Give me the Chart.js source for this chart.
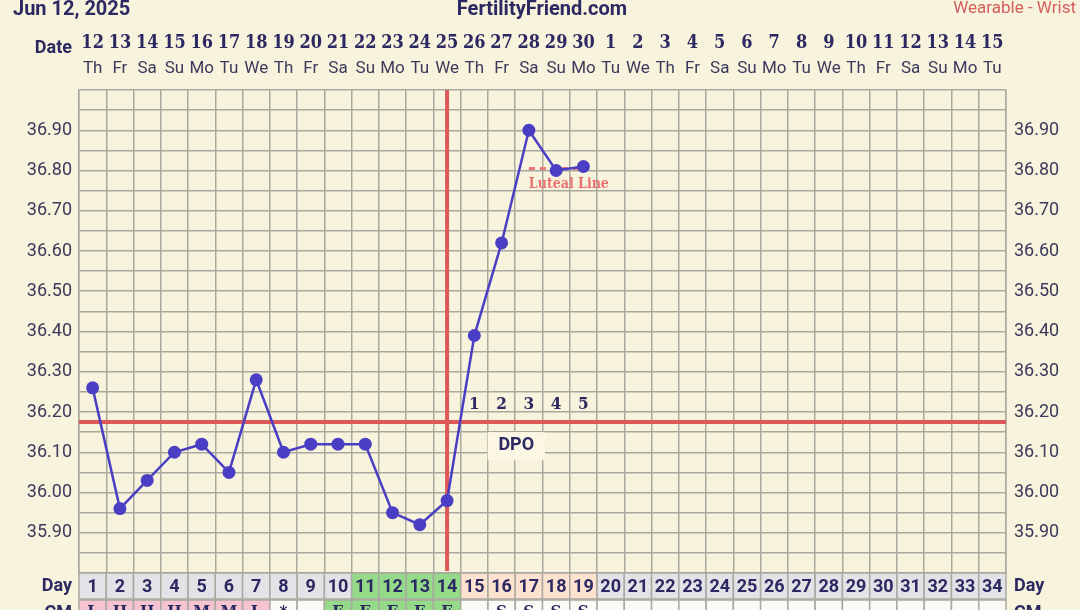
<!DOCTYPE html>
<html>
<head>
<meta charset="utf-8">
<script src="https://cdn.jsdelivr.net/npm/chart.js@4.4.1/dist/chart.umd.min.js"></script>
<style>
  html,body{margin:0;padding:0;background:#f8f3dc;}
  #wrap{width:1080px;height:610px;position:relative;}
</style>
</head>
<body>
<div id="wrap"><canvas id="c" width="1080" height="610"></canvas></div>
<script>
// ---- data ----
const cycleDays = ['1','2','3','4','5','6','7','8','9','10','11','12','13','14','15','16','17','18','19','20','21','22','23','24','25','26','27','28','29','30','31','32','33','34'];
const dateNums = ['12','13','14','15','16','17','18','19','20','21','22','23','24','25','26','27','28','29','30','1','2','3','4','5','6','7','8','9','10','11','12','13','14','15'];
const weekDays = ['Th','Fr','Sa','Su','Mo','Tu','We','Th','Fr','Sa','Su','Mo','Tu','We','Th','Fr','Sa','Su','Mo','Tu','We','Th','Fr','Sa','Su','Mo','Tu','We','Th','Fr','Sa','Su','Mo','Tu'];
const temps = [36.26, 35.96, 36.03, 36.10, 36.12, 36.05, 36.28, 36.10, 36.12, 36.12, 36.12, 35.95, 35.92, 35.98, 36.39, 36.62, 36.90, 36.80, 36.81];
const lutealLine = [null,null,null,null,null,null,null,null,null,null,null,null,null,null,null,null,36.805,36.805,36.805];
const coverline = 36.175;
const ovulationDay = 14;
const dpoLabels = ['1','2','3','4','5'];
const dpoStartDay = 15;
const cmCodes = ['L','H','H','H','M','M','L','*','','E','E','E','E','E','','S','S','S','S','','','','','','','','','','','','','','',''];
const dayRowKind = ['g','g','g','g','g','g','g','g','g','g','f','f','f','f','p','p','p','p','p','g','g','g','g','g','g','g','g','g','g','g','g','g','g','g'];
const cmRowKind  = ['k','k','k','k','k','k','k','w','w','f','f','f','f','f','w','w','w','w','w','w','w','w','w','w','w','w','w','w','w','w','w','w','w','w'];
const yMin = 35.80, yMax = 37.00, yStep = 0.05;

const NAVY = '#2b2862';
const CREAM = '#f8f3dc';
const GRID = '#aaa9a0';
const RED = '#dd5858';
const BLUE = '#4a3fc4';
const SLAB = '"DejaVu Serif Condensed", "DejaVu Serif", serif';
const fills = {g:'#e3e2e7', f:'#94da88', p:'#fde3cf', k:'#f5c4d0', w:'#fbfaf4'};

const decor = {
  id:'decor',
  beforeDraw(chart){
    const c = chart.ctx;
    c.save(); c.fillStyle = CREAM; c.fillRect(0,0,chart.width,chart.height); c.restore();
  },
  beforeDatasetsDraw(chart){
    const c = chart.ctx, x = chart.scales.x, y = chart.scales.y, a = chart.chartArea;
    c.save();
    // DPO box
    const bx0 = x.getPixelForValue(dpoStartDay) - 14, bx1 = x.getPixelForValue(dpoStartDay+1) + 16;
    c.fillStyle = '#fbf7e4';
    c.fillRect(bx0, y.getPixelForValue(36.15), bx1-bx0, y.getPixelForValue(36.08)-y.getPixelForValue(36.15));
    c.fillStyle = NAVY; c.font = 'bold 18px Roboto'; c.textAlign='center'; c.textBaseline='middle';
    c.fillText('DPO', (bx0+bx1)/2, y.getPixelForValue(36.117));
    // coverline
    c.strokeStyle = RED; c.lineWidth = 4;
    const cy = y.getPixelForValue(coverline);
    c.beginPath(); c.moveTo(a.left, cy); c.lineTo(a.right, cy); c.stroke();
    // ovulation line
    const ox = x.getPixelForValue(ovulationDay-1);
    c.beginPath(); c.moveTo(ox, a.top); c.lineTo(ox, a.bottom-2); c.stroke();
    // DPO numbers
    c.fillStyle = NAVY; c.font = 'bold 17px ' + SLAB; c.textAlign='center'; c.textBaseline='middle';
    dpoLabels.forEach((t,i)=>{ c.fillText(t, x.getPixelForValue(dpoStartDay-1+i), y.getPixelForValue(36.18)-15); });
    // luteal label
    c.fillStyle = '#e87272'; c.font = 'bold 14px ' + SLAB; c.textAlign='left';
    c.fillText('Luteal Line', x.getPixelForValue(16), y.getPixelForValue(36.80)+14);
    c.restore();
  },
  afterDraw(chart){
    const c = chart.ctx, x = chart.scales.x, a = chart.chartArea;
    const w = (a.right - a.left)/cycleDays.length;
    c.save();
    // header
    c.fillStyle = NAVY; c.textBaseline='alphabetic';
    c.font = 'bold 20px Roboto'; c.textAlign='left'; c.fillText('Jun 12, 2025', 13, 15);
    c.textAlign='center'; c.fillText('FertilityFriend.com', 542, 15);
    c.fillStyle = '#d45e5e'; c.font = '17px Roboto'; c.textAlign='right'; c.fillText('Wearable - Wrist', 1076, 13);
    // date rows
    c.fillStyle = NAVY; c.textBaseline='middle';
    c.font = 'bold 18px Roboto'; c.textAlign='right'; c.fillText('Date', 72, 48);
    dateNums.forEach((t,i)=>{
      const px = x.getPixelForValue(i);
      c.fillStyle = NAVY; c.font = 'bold 18px ' + SLAB; c.textAlign='center'; c.fillText(t, px, 43);
      c.fillStyle = '#3b3a5c'; c.font = '17px Roboto'; c.fillText(weekDays[i], px, 69);
    });
    // day row & cm row
    const r1 = a.bottom, r1h = 26, r2 = a.bottom + 27, r2h = 26;
    cycleDays.forEach((t,i)=>{
      const x0 = a.left + i*w;
      c.fillStyle = fills[dayRowKind[i]]; c.fillRect(x0, r1, w, r1h);
      c.fillStyle = fills[cmRowKind[i]]; c.fillRect(x0, r2, w, r2h);
      c.strokeStyle = GRID; c.lineWidth = 1.5;
      c.strokeRect(x0, r1, w, r1h); c.strokeRect(x0, r2, w, r2h);
      c.fillStyle = NAVY; c.font = 'bold 18px Roboto'; c.textAlign='center'; c.textBaseline='middle';
      c.fillText(t, x0 + w/2, r1 + r1h/2 + 1);
      if (cmCodes[i]) { c.font = 'bold 17px ' + SLAB; c.fillText(cmCodes[i], x0 + w/2, r2 + 13); }
    });
    c.fillStyle = NAVY; c.font = 'bold 18px Roboto'; c.textBaseline='middle';
    c.textAlign='right'; c.fillText('Day', 72, r1 + 13); c.fillText('CM', 72, r2 + 13);
    c.textAlign='left'; c.fillText('Day', 1014, r1 + 13); c.fillText('CM', 1014, r2 + 13);
    c.restore();
  }
};

const tickCb = function(v){
  const h = Math.round(v*100);
  if (h % 10 === 0 && h >= 3590 && h <= 3690) return (h/100).toFixed(2);
  return '';
};

new Chart(document.getElementById('c'), {
  type:'line',
  data:{
    labels: cycleDays,
    datasets:[
      {data: temps, borderColor: BLUE, backgroundColor: BLUE, borderWidth: 2.5, pointRadius: 6.5, pointHoverRadius: 6.5, pointBackgroundColor: BLUE, pointBorderWidth: 0, tension: 0},
      {data: lutealLine, borderColor: '#ee7878', borderWidth: 3, borderDash: [6,5], pointRadius: 0, tension: 0, order: 2}
    ]
  },
  options:{
    responsive:false, animation:false,
    layout:{padding:{top:90, bottom:37, left:0, right:0}},
    plugins:{legend:{display:false}, tooltip:{enabled:false}},
    scales:{
      x:{type:'category', offset:true, position:'bottom',
         grid:{offset:true, color:GRID, lineWidth:1.5, drawTicks:false},
         border:{display:false},
         ticks:{display:false},
         afterFit(s){ s.height = 0; }},
      y:{type:'linear', position:'left', min:yMin, max:yMax,
         grid:{color:GRID, lineWidth:1.5, drawTicks:false},
         border:{color:GRID, width:1.5},
         ticks:{stepSize:yStep, autoSkip:false, callback:tickCb, padding:7, color:'#3b3a5c', font:{family:'Roboto', size:18}},
         afterFit(s){ s.width = 79; }},
      y2:{type:'linear', position:'right', min:yMin, max:yMax,
         grid:{drawOnChartArea:false, drawTicks:false},
         border:{color:GRID, width:1.5},
         ticks:{stepSize:yStep, autoSkip:false, callback:tickCb, padding:8, color:'#3b3a5c', font:{family:'Roboto', size:18}},
         afterFit(s){ s.width = 74; }}
    }
  },
  plugins:[decor]
});
</script>
</body>
</html>
